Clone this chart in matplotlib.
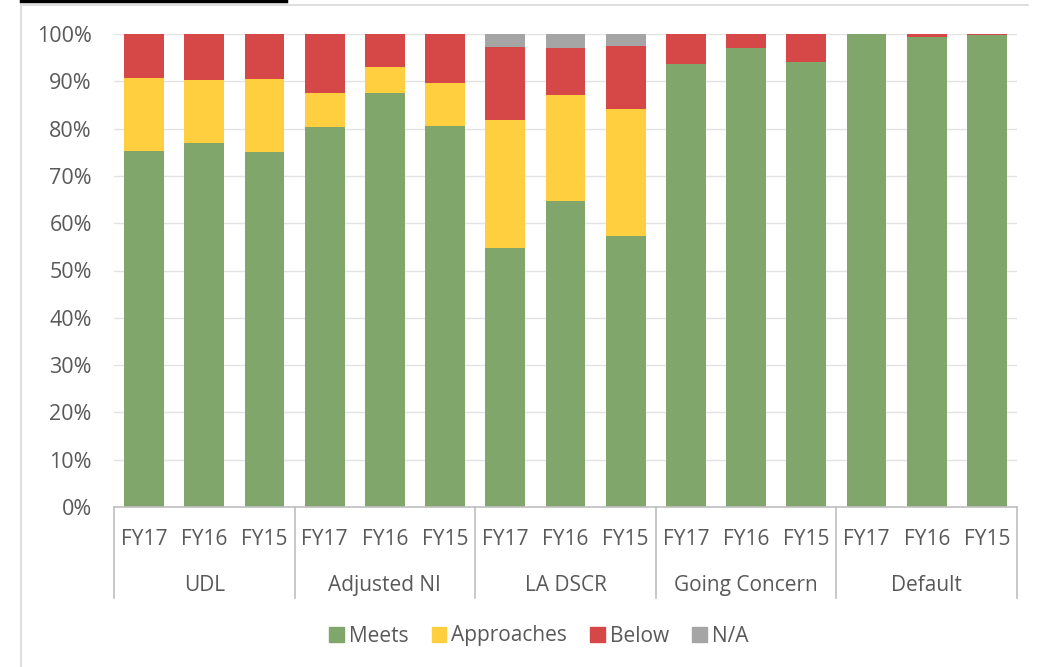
import numpy as np
import matplotlib.pyplot as plt
from matplotlib.lines import Line2D
from matplotlib.patches import Patch

plt.rcParams['font.family'] = ['Open Sans', 'DejaVu Sans']

# Data (percent of each bar)
groups = ["UDL", "Adjusted NI", "LA DSCR", "Going Concern", "Default"]
years = ["FY17", "FY16", "FY15"]
meets = [75.3, 77.0, 75.1,
         80.3, 87.5, 80.5,
         54.7, 64.7, 57.3,
         93.7, 97.0, 94.1,
         100.0, 99.4, 99.7]
approaches = [15.4, 13.3, 15.4,
              7.2, 5.5, 9.1,
              27.2, 22.5, 26.9,
              0.0, 0.0, 0.0,
              0.0, 0.0, 0.0]
below = [9.3, 9.7, 9.5,
         12.5, 7.0, 10.4,
         15.4, 9.9, 13.3,
         6.3, 3.0, 5.9,
         0.0, 0.6, 0.3]
na = [0.0, 0.0, 0.0,
      0.0, 0.0, 0.0,
      2.7, 2.9, 2.5,
      0.0, 0.0, 0.0,
      0.0, 0.0, 0.0]

colors = {"Meets": "#80A66B", "Approaches": "#FFCF40", "Below": "#D64848", "N/A": "#A5A5A5"}
text_color = "#595959"

fig = plt.figure(figsize=(10.38, 6.67), dpi=100)
ax = fig.add_axes([114 / 1038, 1 - 507 / 667, (1017 - 114) / 1038, (507 - 34) / 667])

x = np.arange(len(meets))
bottom = np.zeros(len(meets))
for name, vals in [("Meets", meets), ("Approaches", approaches), ("Below", below), ("N/A", na)]:
    vals = np.array(vals)
    ax.bar(x, vals, 0.66, bottom=bottom, color=colors[name], zorder=2)
    bottom += vals

ax.set_xlim(-0.5, len(meets) - 0.5)
ax.set_ylim(0, 100)
ax.set_yticks(range(0, 101, 10))
ax.set_yticklabels([f"{v}%" for v in range(0, 101, 10)], fontsize=15.5, color=text_color)
ax.tick_params(axis='y', length=0, pad=16)
ax.grid(axis='y', color="#E3E3E3", linewidth=1, zorder=0)
ax.set_xticks([])
for s in ["top", "right", "left"]:
    ax.spines[s].set_visible(False)
ax.spines["bottom"].set_color("#BFBFBF")
ax.spines["bottom"].set_linewidth(1.2)

# Two-level category axis
trans = ax.get_xaxis_transform()
for i in range(len(meets)):
    ax.text(i, -0.069, years[i % 3], transform=trans, ha='center', va='center',
            fontsize=15, color=text_color)
for g, name in enumerate(groups):
    ax.text(3 * g + 1, -0.166, name, transform=trans, ha='center', va='center',
            fontsize=15, color=text_color)
for g in range(len(groups) + 1):
    ax.add_line(Line2D([3 * g - 0.5, 3 * g - 0.5], [0, -0.192], transform=trans,
                       color="#BFBFBF", linewidth=1.2, clip_on=False))

handles = [Patch(color=colors[k]) for k in colors]
fig.legend(handles, list(colors.keys()), loc='center', bbox_to_anchor=(0.519, 1 - 636 / 667),
           ncol=4, frameon=False, fontsize=15, handlelength=0.7, handleheight=0.7,
           handletextpad=0.25, columnspacing=1.1, labelcolor=text_color)

# Chart frame and top black line
fig.add_artist(Line2D([21 / 1038, 21 / 1038], [0, 1 - 5 / 667], color="#D9D9D9", linewidth=1.2))
fig.add_artist(Line2D([21 / 1038, 1028 / 1038], [1 - 5 / 667, 1 - 5 / 667], color="#D9D9D9", linewidth=1.2))
fig.add_artist(Line2D([21 / 1038, 286 / 1038], [1 - 1 / 667, 1 - 1 / 667], color="black", linewidth=2.5))

fig.savefig("out.png", dpi=100)
